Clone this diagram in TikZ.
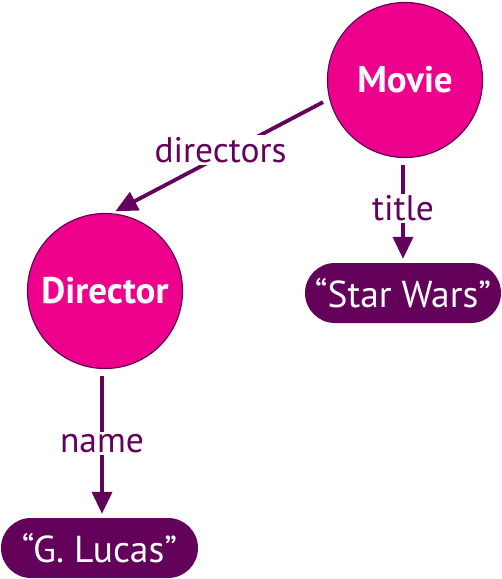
\documentclass[tikz,border=0pt]{standalone}
\usepackage{fontspec}
\setmainfont{PT Sans}
\usetikzlibrary{arrows.meta,shapes.misc}
\definecolor{pinkfill}{HTML}{EC008C}
\definecolor{purp}{HTML}{62005A}
\tikzset{
  x=1pt,y=-1pt,
  entity/.style={circle,fill=pinkfill,draw=purp,line width=1.2pt,minimum size=155pt,inner sep=0pt,text=white,font=\fontsize{37}{40}\selectfont\bfseries},
  valuebox/.style={rounded rectangle,fill=purp,draw=none,minimum height=60pt,text=white,inner sep=0pt,font=\fontsize{37.5}{40}\selectfont},
  lbl/.style={fill=white,text=purp,inner sep=2pt,font=\fontsize{35.5}{38}\selectfont},
  arr/.style={draw=purp,line width=3.8pt,-{Triangle[width=20pt,length=22pt]},shorten <=7pt,shorten >=4pt}
}
\begin{document}
\begin{tikzpicture}
\useasboundingbox (0,0) rectangle (502,579);
\node[entity] (movie) at (405,80) {Movie};
\node[entity] (director) at (105,291) {Director};
\node[valuebox,minimum width=196pt] (starwars) at (403,293) {“Star Wars”};
\node[valuebox,minimum width=197pt] (glucas) at (99.5,548) {“G. Lucas”};
\draw[arr] (movie.194) -- node[lbl,pos=0.5,yshift=6pt]{directors} (director.85);
\draw[arr] ([xshift=-2pt]movie.south) -- node[lbl,pos=0.48]{title} ([xshift=-2pt]movie.south |- starwars.north);
\draw[arr] ([xshift=-3pt]director.south) -- node[lbl,pos=0.5]{name} ([xshift=-3pt]director.south |- glucas.north);
\end{tikzpicture}
\end{document}
